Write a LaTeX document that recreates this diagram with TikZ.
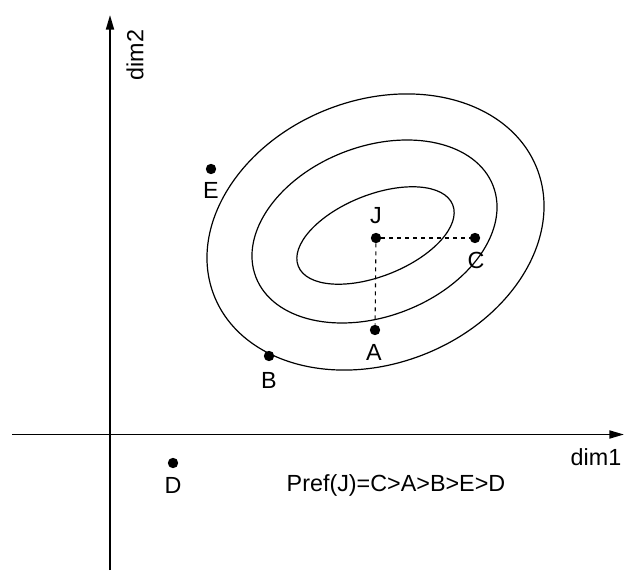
\documentclass[tikz,border=0pt]{standalone}
\usepackage{fontspec}
\setmainfont{Liberation Sans}
\usetikzlibrary{positioning,arrows.meta}
\tikzset{
  dot/.style={circle, fill=black, inner sep=0pt, minimum size=7.8pt},
  lbl/.style={font=\fontsize{17.5}{20}\selectfont, inner sep=0pt},
  axis/.style={line width=1.4pt, -{Triangle[length=11pt, width=6pt]}},
  contour/.style={line width=0.9pt}
}
\begin{document}
\begin{tikzpicture}[x=0.75pt, y=0.75pt]
    \useasboundingbox (0,0) rectangle (624,571);
    % axes
    \coordinate (xs) at (12,136.5);
    \coordinate (xe) at (624,136.5);
    \coordinate (ys) at (110,1);
    \coordinate (ye) at (110,556);
    \draw[axis] (xs) -- (xe);
    \draw[axis] (ys) -- (ye);
    \node[lbl] (dimx) at (596,114) {dim1};
    \node[lbl, rotate=90] (dimy) at (135,516) {dim2};
    % indifference curves round J
    \draw[contour, rotate around={21.5:(375.5,339)}] (375.5,339) ellipse (173.5 and 131.7);
    \draw[contour, rotate around={21:(374.5,339.5)}] (374.5,339.5) ellipse (127.1 and 85);
    \draw[contour, rotate around={21.7:(375.5,335.5)}] (375.5,335.5) ellipse (83.1 and 40.7);
    % alternatives
    \node[dot] (J) at (376,333) {};
    \node[dot] (C) at (475,333) {};
    \node[dot] (A) at (375,241) {};
    \node[dot] (B) at (269,215) {};
    \node[dot] (E) at (211,402) {};
    \node[dot] (D) at (173,108) {};
    \draw[dashed, line width=0.8pt] (J) -- (C);
    \draw[dashed, line width=0.8pt] (J) -- (A);
    \node[lbl] (lJ) at (376,355) {J};
    \node[lbl] (lC) at (476,311) {C};
    \node[lbl] (lA) at (374,219) {A};
    \node[lbl] (lB) at (269,191) {B};
    \node[lbl] (lE) at (211,381) {E};
    \node[lbl] (lD) at (173,86) {D};
    \node[lbl] (pref) at (396,86) {Pref(J)=C>A>B>E>D};
\end{tikzpicture}
\end{document}
